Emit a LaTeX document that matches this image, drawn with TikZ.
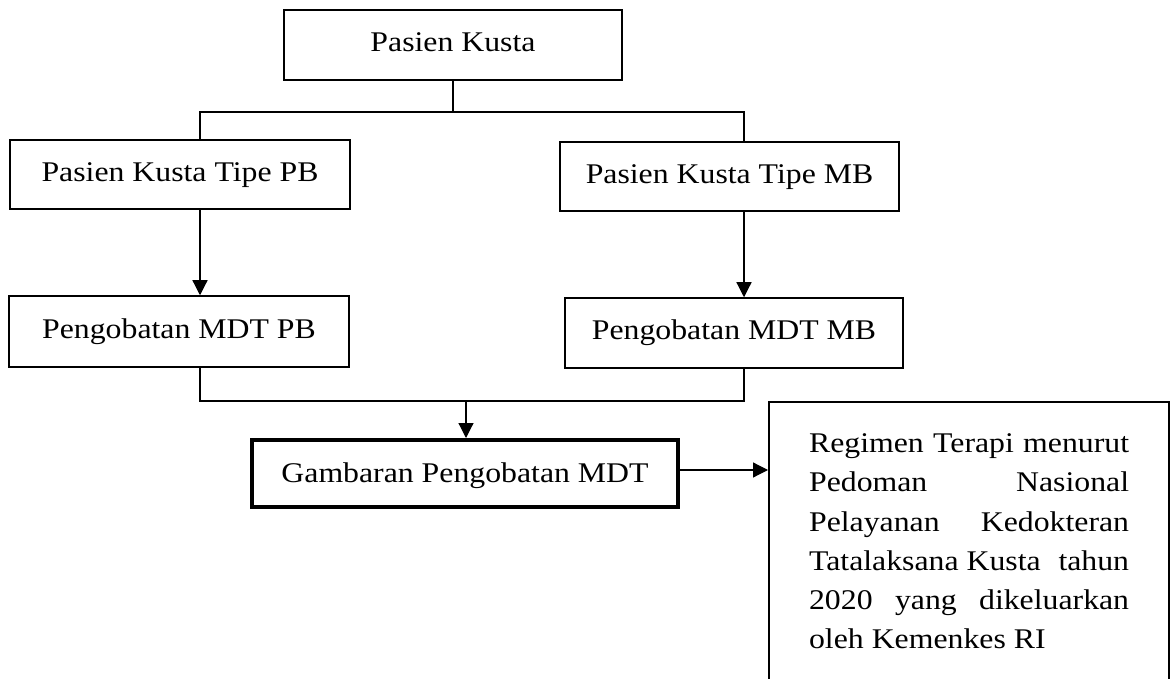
\documentclass[tikz,border=0pt]{standalone}
\usepackage{fontspec}
\setmainfont{Liberation Serif}
\usepackage{graphicx}
\usetikzlibrary{arrows.meta}
\newcommand{\hs}[1]{\scalebox{1.115}[1]{#1}}
\begin{document}
\begin{tikzpicture}[x=1pt,y=-1pt,
  box/.style={draw,line width=1.5pt,inner sep=0pt,minimum width=#1,minimum height=70pt,
    text height=19.5pt,text depth=6.2pt,font=\fontsize{28.5}{34}\selectfont},
  conn/.style={line width=1.2pt},
  arr/.style={conn,-{Triangle[length=15pt,width=15pt]}}]
\useasboundingbox (0,0) rectangle (1176,679);
\clip (0,0) rectangle (1176,679);
\fill[white] (0,0) rectangle (1176,679);

\node[box=338pt] (top) at (453,45) {\hs{Pasien Kusta}};
\node[box=340pt,minimum height=69pt] (pb) at (180,174.5) {\hs{Pasien Kusta Tipe PB}};
\node[box=339pt,minimum height=69pt] (mb) at (729.5,176.5) {\hs{Pasien Kusta Tipe MB}};
\node[box=340pt,minimum height=71pt] (mpb) at (179,331.5) {\hs{Pengobatan MDT PB}};
\node[box=338pt] (mmb) at (734,333) {\hs{Pengobatan MDT MB}};
\node[box=426pt,minimum height=67pt,line width=4pt,text height=24pt] (gb) at (465,473.5) {\hs{Gambaran Pengobatan MDT}};

\node[draw,line width=2.2pt,anchor=north west,inner xsep=40pt,inner ysep=31.5pt,
  font=\fontsize{28.5}{39.3}\selectfont] (rb) at (768,401)
  {\hs{\parbox[t][330pt][t]{287pt}{\fontsize{28.5}{39.3}\selectfont
   \hbox to 287pt{Regimen\hfill Terapi\hfill menurut}
   \hbox to 287pt{Pedoman\hfill Nasional}
   \hbox to 287pt{Pelayanan\hfill Kedokteran}
   \hbox to 287pt{Tatalaksana Kusta\hfill tahun}
   \hbox to 287pt{2020\hfill yang\hfill dikeluarkan}
   \hbox to 287pt{oleh Kemenkes RI\hfill}}}};

\coordinate (jt) at (453,112);
\coordinate (jl) at (200,112);
\coordinate (jr) at (744,112);
\coordinate (bl) at (200,401);
\coordinate (br) at (744,401);
\coordinate (bm) at (466,401);
\coordinate (ay) at (0,470);

\draw[conn] (top.south) -- (jt);
\draw[conn] (pb.north -| jl) -- (jl) -- (jr) -- (mb.north -| jr);
\draw[arr] (pb.south -| jl) -- (mpb.north -| jl);
\draw[arr] (mb.south -| jr) -- (mmb.north -| jr);
\draw[conn] (mpb.south -| bl) -- (bl) -- (br) -- (mmb.south -| br);
\draw[arr] (bm) -- (gb.north -| bm);
\draw[arr] (gb.east |- ay) -- (rb.west |- ay);
\end{tikzpicture}
\end{document}
